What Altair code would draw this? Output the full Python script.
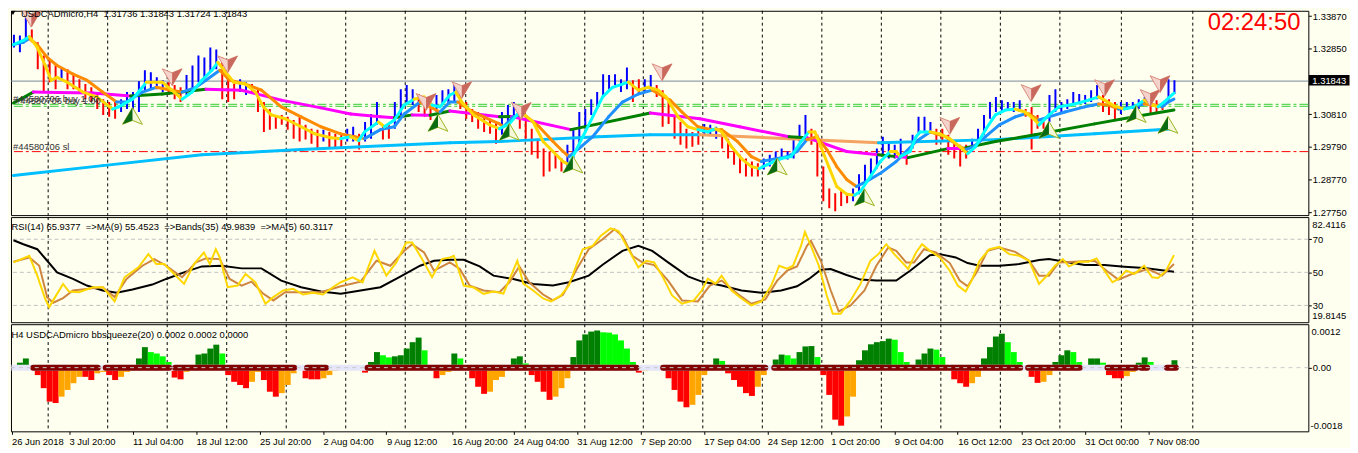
import altair as alt
import pandas as pd

FONT = "Liberation Sans"
BG = "#FFFFF0"
W = 1308
H_MAIN, H_RSI, H_SQZ = 206, 106, 108

# x = bar index of the H4 chart, y = price / indicator value
X_DOMAIN = [2.75, 656.75]
PRICE_DOMAIN = [1.27668, 1.34034]
RSI_DOMAIN = [19.82, 83.42]
SQZ_DOMAIN = [-0.0018, 0.001228]

# ---------------------------------------------------------------- price bars
BAR0, BAR_STEP = 4, 3
bar_high = [
    1.3329, 1.3326, 1.3385, 1.3345, 1.3305, 1.3264, 1.3252, 1.3233, 1.3227, 1.3221,
    1.3206, 1.3190, 1.3175, 1.3165, 1.3150, 1.3128, 1.3119, 1.3119, 1.3128, 1.3150,
    1.3150, 1.3184, 1.3218, 1.3212, 1.3196, 1.3187, 1.3181, 1.3172, 1.3165, 1.3203,
    1.3233, 1.3264, 1.3258, 1.3289, 1.3283, 1.3258, 1.3190, 1.3187, 1.3190, 1.3181,
    1.3175, 1.3159, 1.3119, 1.3097, 1.3079, 1.3079, 1.3073, 1.3063, 1.3079, 1.3048,
    1.3036, 1.3033, 1.3033, 1.3026, 1.3020, 1.3017, 1.3036, 1.3042, 1.3020, 1.3057,
    1.3082, 1.3119, 1.3048, 1.3048, 1.3119, 1.3159, 1.3172, 1.3159, 1.3144, 1.3128,
    1.3119, 1.3141, 1.3156, 1.3159,
    1.3175, 1.3159, 1.3119, 1.3097, 1.3088, 1.3073, 1.3067, 1.3057, 1.3088, 1.3110,
    1.3119, 1.3097, 1.3079, 1.3036, 1.3005, 1.2974, 1.2965, 1.2955, 1.2943, 1.2986,
    1.3036, 1.3088, 1.3097, 1.3128, 1.3150, 1.3206, 1.3203, 1.3206, 1.3190, 1.3227,
    1.3187, 1.3190, 1.3190, 1.3203, 1.3172, 1.3156, 1.3119, 1.3079, 1.3057, 1.3036,
    1.3026, 1.3042, 1.3051, 1.3048, 1.3042, 1.3033, 1.3005, 1.2974, 1.2955, 1.2943,
    1.2934, 1.2928, 1.2943, 1.2955, 1.2965, 1.2974, 1.2965, 1.3002, 1.3048, 1.3079,
    1.3036, 1.3017, 1.2918, 1.2850, 1.2835, 1.2841, 1.2835, 1.2850, 1.2894, 1.2924,
    1.2943, 1.2974, 1.3011, 1.2996, 1.2986,
    1.3005, 1.2965, 1.3017, 1.3073, 1.3073, 1.3057, 1.3036, 1.3036, 1.3017, 1.2996,
    1.2986, 1.2986, 1.3005, 1.3036, 1.3079, 1.3119, 1.3135, 1.3125, 1.3119, 1.3119,
    1.3125, 1.3097, 1.3104, 1.3079, 1.3067, 1.3141, 1.3159, 1.3119, 1.3128, 1.3150,
    1.3144, 1.3141, 1.3156, 1.3172, 1.3141, 1.3128, 1.3119, 1.3119, 1.3119, 1.3119,
    1.3128, 1.3135, 1.3128, 1.3125, 1.3119, 1.3190, 1.3187,
]
bar_low = [
    1.3289, 1.3274, 1.3311, 1.3305, 1.3221, 1.3150, 1.3181, 1.3159, 1.3187, 1.3159,
    1.3159, 1.3150, 1.3128, 1.3119, 1.3097, 1.3079, 1.3073, 1.3067, 1.3088, 1.3097,
    1.3063, 1.3088, 1.3150, 1.3159, 1.3159, 1.3150, 1.3141, 1.3128, 1.3119, 1.3141,
    1.3159, 1.3181, 1.3190, 1.3212, 1.3221, 1.3128, 1.3119, 1.3128, 1.3150, 1.3141,
    1.3144, 1.3088, 1.3026, 1.3033, 1.3036, 1.3048, 1.3033, 1.3005, 1.2996, 1.3002,
    1.2989, 1.2974, 1.2996, 1.2974, 1.2974, 1.2974, 1.2996, 1.2996, 1.2971, 1.2996,
    1.3005, 1.3048, 1.3002, 1.3005, 1.3036, 1.3079, 1.3119, 1.3110, 1.3088, 1.3073,
    1.3063, 1.3088, 1.3110, 1.3113,
    1.3119, 1.3097, 1.3067, 1.3057, 1.3036, 1.3026, 1.3020, 1.2989, 1.3017, 1.3048,
    1.3067, 1.3036, 1.3005, 1.2955, 1.2943, 1.2887, 1.2903, 1.2912, 1.2903, 1.2912,
    1.2943, 1.2986, 1.3036, 1.3079, 1.3097, 1.3141, 1.3159, 1.3172, 1.3150, 1.3159,
    1.3119, 1.3141, 1.3150, 1.3156, 1.3135, 1.3042, 1.3051, 1.3005, 1.2986, 1.2974,
    1.2980, 1.2986, 1.3017, 1.3017, 1.3005, 1.2974, 1.2943, 1.2924, 1.2897, 1.2887,
    1.2887, 1.2887, 1.2909, 1.2918, 1.2934, 1.2940, 1.2940, 1.2943, 1.2996, 1.3017,
    1.2986, 1.2887, 1.2810, 1.2788, 1.2779, 1.2795, 1.2804, 1.2810, 1.2832, 1.2872,
    1.2894, 1.2912, 1.2955, 1.2943, 1.2943,
    1.2949, 1.2924, 1.2974, 1.3017, 1.3026, 1.3020, 1.2986, 1.2996, 1.2955, 1.2943,
    1.2918, 1.2943, 1.2965, 1.2986, 1.3017, 1.3067, 1.3088, 1.3088, 1.3097, 1.3088,
    1.3088, 1.3073, 1.2971, 1.3036, 1.3036, 1.3057, 1.3088, 1.3088, 1.3097, 1.3110,
    1.3113, 1.3113, 1.3119, 1.3128, 1.3088, 1.3079, 1.3063, 1.3082, 1.3094, 1.3097,
    1.3097, 1.3110, 1.3079, 1.3088, 1.3094, 1.3119, 1.3144,
]
bar_dir = ("uuudddddud" "dddddddduu" "uuuuuudddu" "uuuuuddduu" "dddddddddd"
           "dduddduudu" "uudduuuudd" "duuu"
           "uddddddduu" "uddddddddu" "uuuuuuuuuu" "dduudddddd" "dduuuddddd"
           "dduuuuuuuu" "ddddddduuu" "uuuuu"
           "uduuuudddd" "dduuuuuuuu" "udddduuuuu" "uuuuddduuu" "uuddduu")

# ------------------------------------------------ moving averages (bar, value, colour key)
fast_ma = [
    (4, 1.3298, 'c'), (9, 1.3311, 'c'), (12, 1.3323, 'y'), (16, 1.3289, 'y'), (20, 1.3233, 'y'),
    (23, 1.3187, 'y'), (26, 1.3196, 'y'), (31, 1.3181, 'y'), (39, 1.3150, 'y'), (46, 1.3135, 'y'),
    (54, 1.3097, 'c'), (57, 1.3104, 'c'), (64, 1.3128, 'c'), (69, 1.3165, 'c'), (71, 1.3181, 'y'),
    (79, 1.3181, 'y'), (85, 1.3150, 'y'), (89, 1.3128, 'c'), (94, 1.3150, 'c'), (99, 1.3187, 'c'),
    (104, 1.3218, 'c'), (107, 1.3243, 'y'), (111, 1.3212, 'y'), (115, 1.3181, 'y'), (121, 1.3175, 'y'),
    (126, 1.3150, 'y'), (130, 1.3104, 'y'), (134, 1.3079, 'y'), (141, 1.3067, 'y'), (149, 1.3042, 'y'),
    (156, 1.3020, 'y'), (164, 1.3008, 'y'), (169, 1.3005, 'c'), (174, 1.3011, 'y'), (178, 1.2999, 'c'),
    (181, 1.3026, 'c'), (188, 1.3057, 'y'), (191, 1.3042, 'c'), (196, 1.3063, 'c'), (201, 1.3110, 'c'),
    (206, 1.3128, 'y'), (211, 1.3135, 'y'), (215, 1.3110, 'c'), (219, 1.3104, 'c'), (224, 1.3141, 'c'),
    (227, 1.3150, 'y'), (230, 1.3119, 'y'), (236, 1.3079, 'y'), (244, 1.3048, 'y'), (249, 1.3036, 'c'),
    (254, 1.3051, 'c'), (259, 1.3088, 'y'), (261, 1.3082, 'y'), (266, 1.3057, 'y'), (271, 1.2996, 'y'),
    (276, 1.2965, 'y'), (281, 1.2934, 'y'), (284, 1.2924, 'c'), (286, 1.2949, 'c'), (291, 1.3011, 'c'),
    (296, 1.3073, 'c'), (301, 1.3135, 'c'), (306, 1.3165, 'c'), (311, 1.3175, 'c'), (314, 1.3181, 'y'),
    (319, 1.3156, 'y'), (324, 1.3165, 'y'), (329, 1.3156, 'y'), (333, 1.3135, 'y'), (339, 1.3073, 'y'),
    (344, 1.3042, 'y'), (349, 1.3033, 'c'), (354, 1.3026, 'c'), (358, 1.3036, 'y'), (361, 1.3026, 'y'),
    (366, 1.2980, 'y'), (371, 1.2943, 'y'), (376, 1.2918, 'y'), (380, 1.2912, 'c'), (384, 1.2924, 'c'),
    (391, 1.2943, 'c'), (396, 1.2949, 'c'), (401, 1.2996, 'c'), (405, 1.3026, 'y'), (408, 1.3026, 'y'),
    (411, 1.2980, 'y'), (415, 1.2918, 'y'), (419, 1.2856, 'y'), (424, 1.2832, 'y'), (428, 1.2829, 'c'),
    (431, 1.2841, 'c'), (436, 1.2887, 'c'), (441, 1.2934, 'c'), (446, 1.2965, 'y'), (449, 1.2965, 'y'),
    (451, 1.2949, 'c'), (456, 1.2965, 'c'), (459, 1.3011, 'c'), (461, 1.3026, 'c'), (466, 1.3026, 'y'),
    (471, 1.3020, 'y'), (476, 1.3005, 'y'), (481, 1.2980, 'y'), (485, 1.2958, 'c'), (489, 1.2980, 'c'),
    (494, 1.3033, 'c'), (499, 1.3079, 'c'), (504, 1.3094, 'c'), (509, 1.3097, 'y'), (514, 1.3088, 'y'),
    (519, 1.3063, 'y'), (521, 1.3048, 'c'), (526, 1.3079, 'c'), (531, 1.3104, 'c'), (539, 1.3113, 'c'),
    (546, 1.3125, 'c'), (551, 1.3135, 'y'), (554, 1.3125, 'y'), (559, 1.3107, 'y'), (564, 1.3097, 'c'),
    (569, 1.3104, 'c'), (574, 1.3125, 'y'), (578, 1.3110, 'y'), (581, 1.3104, 'c'), (584, 1.3119, 'c'),
    (589, 1.3147, 'c'),
]
mid_ma = [
    (4, 1.3298, 'b'), (9, 1.3305, 'b'), (12, 1.3317, 'o'), (16, 1.3298, 'o'), (21, 1.3258, 'o'),
    (26, 1.3233, 'o'), (34, 1.3206, 'o'), (41, 1.3187, 'o'), (49, 1.3150, 'o'), (56, 1.3119, 'b'),
    (61, 1.3119, 'b'), (69, 1.3150, 'b'), (76, 1.3165, 'o'), (84, 1.3156, 'o'), (89, 1.3150, 'b'),
    (96, 1.3165, 'b'), (101, 1.3187, 'b'), (108, 1.3218, 'o'), (113, 1.3187, 'o'), (121, 1.3175, 'o'),
    (129, 1.3156, 'o'), (139, 1.3104, 'o'), (149, 1.3073, 'o'), (159, 1.3042, 'o'), (169, 1.3020, 'o'),
    (176, 1.3011, 'o'), (181, 1.3005, 'b'), (189, 1.3033, 'b'), (196, 1.3042, 'b'), (201, 1.3082, 'b'),
    (209, 1.3119, 'o'), (214, 1.3104, 'o'), (219, 1.3088, 'b'), (224, 1.3119, 'b'), (228, 1.3119, 'o'),
    (234, 1.3094, 'o'), (241, 1.3073, 'o'), (249, 1.3051, 'o'), (251, 1.3042, 'b'), (256, 1.3073, 'b'),
    (261, 1.3082, 'o'), (269, 1.3042, 'o'), (276, 1.2996, 'o'), (281, 1.2965, 'o'), (284, 1.2949, 'b'),
    (289, 1.2974, 'b'), (296, 1.3011, 'b'), (304, 1.3073, 'b'), (311, 1.3119, 'b'), (319, 1.3144, 'b'),
    (326, 1.3156, 'o'), (335, 1.3125, 'o'), (341, 1.3088, 'o'), (349, 1.3042, 'o'), (356, 1.3033, 'o'),
    (361, 1.3033, 'o'), (369, 1.2996, 'o'), (376, 1.2949, 'o'), (381, 1.2934, 'b'), (394, 1.2949, 'b'),
    (399, 1.2965, 'b'), (404, 1.3002, 'o'), (409, 1.3011, 'o'), (414, 1.2971, 'o'), (419, 1.2918, 'o'),
    (424, 1.2878, 'o'), (429, 1.2856, 'b'), (434, 1.2872, 'b'), (441, 1.2897, 'b'), (449, 1.2934, 'b'),
    (454, 1.2965, 'b'), (459, 1.2996, 'b'), (466, 1.3026, 'o'), (474, 1.3011, 'o'), (481, 1.2980, 'o'),
    (484, 1.2971, 'b'), (488, 1.2980, 'b'), (494, 1.3011, 'b'), (501, 1.3048, 'b'), (509, 1.3073, 'b'),
    (514, 1.3082, 'o'), (516, 1.3082, 'o'), (521, 1.3063, 'b'), (526, 1.3073, 'b'), (534, 1.3088, 'b'),
    (544, 1.3104, 'b'), (551, 1.3113, 'o'), (556, 1.3110, 'o'), (561, 1.3097, 'b'), (566, 1.3101, 'b'),
    (574, 1.3113, 'o'), (579, 1.3110, 'o'), (583, 1.3104, 'b'), (586, 1.3119, 'b'), (589, 1.3128, 'b'),
]
trend_ma = [
    (4, 1.3116, 'g'), (14, 1.3150, 'm'), (26, 1.3149, 'm'), (44, 1.3147, 'm'), (63, 1.3138, 'g'),
    (79, 1.3144, 'g'), (101, 1.3159, 'm'), (119, 1.3156, 'm'), (139, 1.3125, 'm'), (159, 1.3101, 'm'),
    (174, 1.3082, 'm'), (189, 1.3073, 'm'), (196, 1.3070, 'g'), (205, 1.3079, 'm'), (214, 1.3078, 'g'),
    (224, 1.3091, 'm'), (249, 1.3073, 'g'), (255, 1.3074, 'm'), (285, 1.3033, 'g'), (325, 1.3085, 'm'),
    (350, 1.3067, 'm'), (370, 1.3042, 'm'), (395, 1.3011, 'g'), (404, 1.3008, 'm'), (424, 1.2965, 'm'),
    (440, 1.2955, 'g'), (449, 1.2949, 'm'), (455, 1.2946, 'g'), (475, 1.2974, 'm'), (482, 1.2974, 'g'),
    (499, 1.2996, 'g'), (519, 1.3017, 'g'), (549, 1.3051, 'g'), (569, 1.3073, 'g'), (589, 1.3094, 'g'),
]
long_ma = [
    (4, 1.2890, 's'), (49, 1.2921, 's'), (99, 1.2955, 's'), (149, 1.2971, 's'), (224, 1.2992, 's'),
    (249, 1.2996, 's'), (299, 1.3011, 's'), (325, 1.3017, 's'), (350, 1.3017, 'n'), (395, 1.3005, 'n'),
    (440, 1.2992, 's'), (499, 1.3002, 's'), (549, 1.3020, 's'), (589, 1.3036, 's'),
]
FAST_COL = {'c': '#00FFFF', 'y': '#FFD700'}
MID_COL = {'b': '#1E90FF', 'o': '#FF8C00'}
TREND_COL = {'g': '#008000', 'm': '#FF00FF'}
LONG_COL = {'s': '#00BFFF', 'n': '#F4A460'}

sell_arrows = [(13, 1.33787), (84, 1.31964), (112, 1.32365), (212, 1.31191), (230, 1.31562),
               (260, 1.30913), (331, 1.32118), (476, 1.30449), (517, 1.31469), (554, 1.31624),
               (577, 1.31315), (582, 1.31747)]
buy_arrows = [(64, 1.30758), (218, 1.30542), (254, 1.30264), (286, 1.29244), (389, 1.29183),
              (433, 1.28225), (526, 1.30326), (570, 1.30820), (586, 1.30480)]

last_price = 1.31843
order_entries = [1.31120, 1.31058]
stop_loss = 1.29646
price_ticks = [1.3387, 1.3285, 1.3081, 1.2979, 1.2877, 1.2775]

# ---------------------------------------------------------------- RSI panel
rsi_ma5 = [
    (4, 56.0), (12, 60.0), (16, 48.0), (20, 34.0), (22, 29.0), (25, 35.0), (29, 43.0), (32, 38.4),
    (37, 38.0), (44, 41.0), (49, 41.0), (55, 32.4), (60, 47.0), (67, 53.0), (72, 61.0), (76, 55.0),
    (80, 55.0), (85, 49.0), (90, 43.0), (95, 55.0), (100, 62.0), (103, 55.0), (106, 64.0), (108, 59.0),
    (112, 41.0), (117, 42.0), (121, 49.0), (126, 44.0), (131, 31.0), (135, 35.0), (140, 39.0), (145, 40.0),
    (150, 36.6), (155, 37.6), (160, 36.6), (165, 41.0), (169, 44.0), (175, 47.0), (180, 44.0), (186, 63.0),
    (192, 48.0), (197, 56.0), (202, 68.0), (205, 68.0), (210, 58.0), (215, 47.0), (220, 58.0), (224, 59.0),
    (226, 60.0), (231, 42.0), (236, 40.8), (241, 37.0), (246, 38.4), (251, 37.2), (258, 57.0), (261, 43.2),
    (266, 39.0), (271, 34.2), (275, 32.4), (280, 36.0), (284, 42.0), (288, 55.0), (291, 64.0), (296, 66.0),
    (300, 72.0), (305, 76.6), (309, 75.0), (314, 64.0), (319, 53.0), (323, 57.0), (327, 56.0), (331, 48.0),
    (336, 36.0), (341, 31.0), (347, 33.0), (351, 39.0), (354, 46.2), (358, 43.2), (361, 48.0), (366, 39.0),
    (371, 34.2), (376, 30.0), (381, 32.4), (386, 42.0), (390, 54.0), (394, 52.2), (397, 54.0), (401, 66.0),
    (403, 74.4), (406, 66.0), (410, 54.0), (414, 36.0), (417, 25.0), (421, 25.0), (426, 33.0), (431, 43.0),
    (436, 57.0), (440, 61.0), (444, 67.0), (448, 61.0), (452, 56.0), (455, 52.0), (459, 62.0), (462, 67.0),
    (466, 63.0), (471, 59.0), (476, 51.0), (480, 42.0), (484, 38.4), (487, 45.0), (491, 57.0), (496, 64.0),
    (501, 65.4), (506, 61.0), (511, 60.0), (516, 57.0), (521, 43.0), (525, 48.0), (529, 54.0), (533, 58.0),
    (536, 53.6), (541, 56.4), (546, 56.4), (550, 58.4), (554, 51.0), (558, 44.0), (561, 46.0), (565, 51.0),
    (569, 49.0), (574, 54.0), (578, 47.0), (581, 46.6), (585, 51.0), (589, 60.4),
]
rsi_ma9 = [
    (4, 56.4), (12, 59.0), (17, 54.0), (21, 35.0), (24, 31.6), (29, 34.4), (34, 39.0), (41, 40.0),
    (49, 41.0), (55, 35.0), (61, 46.0), (69, 54.0), (75, 58.0), (81, 54.0), (89, 47.0), (96, 56.0),
    (101, 58.4), (108, 58.0), (113, 46.0), (119, 42.0), (124, 44.4), (130, 37.0), (135, 33.0), (141, 38.0),
    (149, 38.0), (159, 38.0), (169, 41.6), (179, 44.4), (187, 57.0), (194, 54.0), (201, 63.0), (205, 67.0),
    (211, 62.0), (216, 51.0), (224, 56.0), (229, 52.0), (234, 42.0), (241, 39.0), (249, 38.0), (254, 44.0),
    (259, 53.6), (264, 44.0), (271, 36.6), (276, 33.0), (281, 36.4), (288, 52.0), (294, 64.0), (301, 70.0),
    (307, 76.0), (311, 72.0), (316, 60.0), (321, 56.0), (327, 54.4), (334, 45.0), (341, 33.0), (349, 32.4),
    (355, 42.0), (361, 45.0), (369, 37.0), (376, 31.0), (383, 33.6), (389, 45.0), (394, 51.0), (399, 53.6),
    (404, 66.0), (406, 69.0), (411, 57.0), (416, 39.0), (420, 26.4), (426, 30.0), (433, 39.0), (439, 54.0),
    (445, 65.0), (449, 63.0), (454, 56.0), (458, 56.0), (463, 64.0), (469, 62.0), (476, 55.6), (481, 45.0),
    (485, 41.6), (490, 51.0), (495, 63.0), (501, 65.0), (509, 62.4), (516, 57.0), (521, 48.0), (526, 48.0),
    (531, 56.0), (539, 56.4), (549, 57.0), (555, 51.0), (561, 45.6), (569, 49.6), (576, 52.0), (583, 48.0),
    (589, 55.0),
]
rsi_band = [
    (4, 69.4), (9, 67.0), (16, 64.0), (21, 57.0), (26, 50.0), (34, 46.0), (41, 42.0), (49, 39.0),
    (56, 37.6), (64, 39.6), (74, 42.6), (81, 46.0), (91, 50.4), (99, 53.6), (109, 54.0), (119, 52.4),
    (129, 52.4), (139, 45.0), (149, 41.0), (159, 38.4), (169, 37.0), (179, 39.0), (189, 41.0), (199, 47.4),
    (209, 54.0), (216, 57.0), (224, 57.6), (231, 57.6), (239, 53.6), (246, 48.0), (256, 46.0), (266, 43.0),
    (276, 42.0), (284, 44.0), (294, 48.0), (301, 54.6), (311, 63.0), (319, 66.0), (326, 63.0), (334, 56.0),
    (344, 47.6), (351, 44.4), (361, 42.0), (371, 39.0), (381, 37.6), (391, 39.0), (399, 41.6), (405, 46.0),
    (411, 51.6), (416, 52.0), (424, 48.4), (431, 45.6), (439, 45.0), (449, 45.0), (456, 51.0), (466, 60.4),
    (471, 61.0), (479, 59.0), (485, 55.6), (491, 54.0), (501, 54.0), (511, 55.0), (521, 57.4), (526, 58.0),
    (534, 56.4), (544, 54.4), (554, 54.4), (564, 53.4), (574, 52.6), (581, 51.6), (589, 50.4),
]
rsi_levels = [30, 50, 70]

# ---------------------------------------------------------------- bbsqueeze panel
squeeze = [
    0, 0.00014, 0.00026, 0.00005, -0.00021, -0.00058, -0.00096, -0.00100, -0.00082, -0.00063,
    -0.00044, -0.00026, -0.00026, -0.00035, -0.00016, -0.00012, -0.00021, -0.00035, -0.00026, -0.00012,
    0.00003, 0.00026, 0.00058, 0.00044, 0.00040, 0.00032, 0.00016, -0.00028, -0.00033, -0.00012,
    0, 0.00037, 0.00040, 0.00054, 0.00065, 0.00040, -0.00021, -0.00040, -0.00049, -0.00058,
    -0.00040, -0.00012, -0.00035, -0.00068, -0.00082, -0.00072, -0.00049, -0.00016, -0.00003, -0.00030,
    -0.00033, -0.00033, -0.00030, -0.00021, -0.00009, 0, -0.00005, 0, 0, -0.00014,
    0.00016, 0.00044, 0.00035, 0.00029, 0.00032, 0.00035, 0.00054, 0.00072, 0.00085, 0.00049,
    0.00005, -0.00030, -0.00021, -0.00012,
    0.00040, 0.00026, -0.00007, -0.00030, -0.00054, -0.00074, -0.00068, -0.00035, -0.00026, 0.00005,
    0.00026, 0.00032, 0.00012, -0.00021, -0.00040, -0.00068, -0.00091, -0.00082, -0.00058, -0.00030,
    0.00030, 0.00077, 0.00094, 0.00102, 0.00105, 0.00100, 0.00099, 0.00094, 0.00077, 0.00054,
    0.00016, -0.00014, -0.00009, -0.00007, -0.00005, -0.00007, -0.00030, -0.00063, -0.00096, -0.00112,
    -0.00105, -0.00077, -0.00021, 0, 0.00026, 0.00019, -0.00016, -0.00035, -0.00054, -0.00072,
    -0.00080, -0.00054, -0.00021, 0, 0.00023, 0.00037, 0.00035, 0.00026, 0.00044, 0.00060,
    0.00061, 0.00030, -0.00021, -0.00077, -0.00147, -0.00164, -0.00138, -0.00082, 0.00021, 0.00049,
    0.00066, 0.00072, 0.00075, 0.00082, 0.00079,
    0.00044, 0.00016, 0, 0.00023, 0.00040, 0.00054, 0.00051, 0.00030, 0, -0.00033,
    -0.00044, -0.00054, -0.00044, -0.00026, 0.00026, 0.00058, 0.00088, 0.00096, 0.00072, 0.00044,
    0.00016, 0, -0.00026, -0.00043, -0.00040, -0.00021, 0.00016, 0.00035, 0.00049, 0.00044,
    0.00016, 0, 0.00026, 0.00026, 0.00014, -0.00021, -0.00030, -0.00030, -0.00024, -0.00012,
    0.00014, 0.00029, 0.00016, 0, 0, 0, 0.00021,
]
squeeze_on = [(14, 46.5), (50.5, 82.5), (85.5, 145.5), (152, 161.5), (182.5, 318), (331.5, 383),
              (387.5, 475.5), (476.5, 511.5), (515.5, 541.5), (555.5, 570), (572.5, 575.5), (585.5, 590)]
squeeze_span = (3, 590)

# ---------------------------------------------------------------- time axis
grid_bars = [21.5, 51.5, 81.5, 111.5, 141.5, 171.5, 201.5, 232, 262, 292, 321.5, 351.5,
             381.5, 411.5, 441.5, 471.5, 501.5, 531.5, 562.5, 598.5]
date_bars = [3, 32, 64, 96, 128, 160, 192, 225, 256, 288, 320, 352, 384, 416, 448, 480, 512, 544, 576]
date_labels = ["26 Jun 2018", "3 Jul 20:00", "11 Jul 04:00", "18 Jul 12:00", "25 Jul 20:00",
               "2 Aug 04:00", "9 Aug 12:00", "16 Aug 20:00", "24 Aug 04:00", "31 Aug 12:00",
               "7 Sep 20:00", "17 Sep 04:00", "24 Sep 12:00", "1 Oct 20:00", "9 Oct 04:00",
               "16 Oct 12:00", "23 Oct 20:00", "31 Oct 00:00", "7 Nov 08:00"]

# ================================================================ build
xs = alt.Scale(domain=X_DOMAIN, nice=False, zero=False)
ys_p = alt.Scale(domain=PRICE_DOMAIN, nice=False, zero=False)
ys_r = alt.Scale(domain=RSI_DOMAIN, nice=False, zero=False)
ys_s = alt.Scale(domain=SQZ_DOMAIN, nice=False, zero=False)


def right_axis(values, fmt):
    return alt.Axis(orient="right", values=values, format=fmt, title=None, grid=False, domain=False,
                    tickSize=3, tickColor="black", labelPadding=1, labelFont=FONT, labelFontSize=9.5,
                    labelColor="black", labelAlign="left", labelBaseline="middle",
                    labelFlush=False, labelOverlap=False, labelBound=False)


label_expr = ("[" + ",".join("'%s'" % t for t in date_labels) + "][indexof(["
              + ",".join(str(v) for v in date_bars) + "], datum.value)]")
DATE_AXIS = alt.Axis(values=date_bars, labelExpr=label_expr, orient="bottom", title=None, grid=False,
                     domain=False, tickSize=3, tickColor="black", labelAlign="left", labelBaseline="top",
                     labelPadding=2, labelFlush=False, labelOverlap=False, labelBound=False,
                     labelFont=FONT, labelFontSize=9.5, labelColor="black")

P_AXIS = right_axis(price_ticks, ".5f")
R_AXIS = right_axis(rsi_levels, "d")
S_AXIS = right_axis([0.0], ".2f")


class Panel:
    def __init__(self, ysc, yaxis, xaxis=None):
        self.ysc, self.yaxis, self.xaxis = ysc, yaxis, xaxis

    def X(self, field):
        return alt.X(field, type="quantitative", scale=xs, axis=self.xaxis)

    def Y(self, field):
        return alt.Y(field, type="quantitative", scale=self.ysc, axis=self.yaxis)

    def grid(self):
        return alt.Chart(pd.DataFrame({"b": grid_bars})).mark_rule(
            color="black", strokeWidth=1, strokeDash=[3, 3]).encode(x=self.X("b"))

    def hrule(self, values, colors, **kw):
        df = pd.DataFrame({"v": values, "c": colors})
        return alt.Chart(df).mark_rule(**kw).encode(y=self.Y("v"), color=alt.Color("c:N", scale=None))

    def segs(self, series, palette, width=3):
        rows = [{"x": b0, "x2": b1, "y": v0, "y2": v1, "color": palette[c]}
                for (b0, v0, c), (b1, v1, _) in zip(series[:-1], series[1:])]
        return alt.Chart(pd.DataFrame(rows)).mark_rule(
            strokeWidth=width, strokeCap="round", clip=True).encode(
            x=self.X("x"), x2="x2", y=self.Y("y"), y2="y2", color=alt.Color("color:N", scale=None))

    def line(self, series, color):
        return alt.Chart(pd.DataFrame(series, columns=["b", "v"])).mark_line(
            color=color, strokeWidth=2, clip=True).encode(x=self.X("b"), y=self.Y("v"))

    def text(self, rows, **kw):
        df = pd.DataFrame(rows, columns=["b", "v", "t"])
        return alt.Chart(df).mark_text(font=FONT, **kw).encode(x=self.X("b"), y=self.Y("v"), text="t:N")


# ---------------- main panel
pm = Panel(ys_p, P_AXIS)
bars = pd.DataFrame({"b": [BAR0 + BAR_STEP * i for i in range(len(bar_high))],
                     "hi": bar_high, "lo": bar_low, "dir": list(bar_dir)})
bar_layer = alt.Chart(bars).mark_rule(strokeWidth=2, xOffset=0.5, clip=True).encode(
    x=pm.X("b"), y=pm.Y("lo"), y2="hi",
    color=alt.Color("dir:N", scale=alt.Scale(domain=["u", "d"], range=["#0000FF", "#FF0000"]), legend=None))

order_layer = pm.hrule(order_entries + [stop_loss], ["#32CD32", "#32CD32", "#FF0000"],
                       strokeWidth=1, strokeDash=[9, 3, 3, 3])
bid_layer = pm.hrule([last_price], ["#778899"], strokeWidth=1)

UP = "M0,-0.85 L1,0.85 L0,0.45 L-1,0.85 Z"
UP_HALF = "M0,-0.85 L0,0.45 L-1,0.85 Z"
DN = "M0,0.85 L1,-0.85 L0,-0.45 L-1,-0.85 Z"
DN_HALF = "M0,0.85 L0,-0.45 L1,-0.85 Z"
buy_df = pd.DataFrame(buy_arrows, columns=["b", "p"])
sell_df = pd.DataFrame(sell_arrows, columns=["b", "p"])


def arrow(df, shape, **kw):
    return alt.Chart(df).mark_point(shape=shape, size=400, opacity=1, clip=True, **kw).encode(
        x=pm.X("b"), y=pm.Y("p"))


arrows = [
    arrow(buy_df, UP, filled=True, fill="#F4F7D8", stroke="#9DB520", strokeWidth=1),
    arrow(buy_df, UP_HALF, filled=True, fill="#0B6B12", strokeWidth=0),
    arrow(sell_df, DN, filled=True, fill="#F3D3CB", stroke="#D98B7A", strokeWidth=1),
    arrow(sell_df, DN_HALF, filled=True, fill="#C9685C", strokeWidth=0),
]

tri = alt.Chart(pd.DataFrame({"b": [3.75], "p": [1.33972]})).mark_point(
    shape="triangle-down", size=28, filled=True, color="black", opacity=1, clip=True).encode(
    x=pm.X("b"), y=pm.Y("p"))

title_txt = pm.text([(7.75, 1.33848, "USDCADmicro,H4\u00a0\u00a01.31736 1.31843 1.31724 1.31843")],
                    align="left", baseline="alphabetic", fontSize=9.5, color="black", clip=True)
clock_txt = pm.text([(652.75, 1.33447, "02:24:50")], align="right", baseline="alphabetic",
                    fontSize=24, color="#FF0000")
order_txt = pm.text([(3.75, 1.31191, "#44580706 buy 1.00"), (4.75, 1.31129, "#44580706 buy 1.00"),
                     (3.75, 1.29708, "#44580706 sl")],
                    align="left", baseline="alphabetic", fontSize=9.5, color="#333333")

box = alt.Chart(pd.DataFrame({"b0": [657.0], "b1": [677.5], "p0": [1.31707], "p1": [1.32035]})).mark_rect(
    color="black").encode(x=pm.X("b0"), x2="b1", y=pm.Y("p0"), y2="p1")
box_txt = pm.text([(658.75, last_price, "1.31843")], align="left", baseline="middle",
                  fontSize=9.5, color="white")

main = alt.layer(
    pm.grid(), order_layer, bid_layer, bar_layer,
    pm.segs(long_ma, LONG_COL), pm.segs(trend_ma, TREND_COL),
    pm.segs(mid_ma, MID_COL), pm.segs(fast_ma, FAST_COL),
    *arrows, tri, title_txt, clock_txt, order_txt, box, box_txt,
).properties(width=W, height=H_MAIN)

# ---------------- RSI panel
pr = Panel(ys_r, R_AXIS)
rsi_txt = pr.text([(3.0, 75.9, "RSI(14) 65.9377  =>MA(9) 55.4523  =>Bands(35) 49.9839  =>MA(5) 60.3117"
                    .replace("  ", "\u00a0\u00a0"))],
                  align="left", baseline="alphabetic", fontSize=9.5, color="black")
rsi_ext = pr.text([(658.75, 77.1, "82.4116"), (658.75, 21.9, "19.8145")], align="left",
                  baseline="alphabetic", fontSize=9.5, color="black")

rsi = alt.layer(
    pr.grid(),
    pr.hrule(rsi_levels, ["#C0C0C0"] * 3, strokeWidth=1, strokeDash=[4, 3]),
    pr.line(rsi_band, "#000000"), pr.line(rsi_ma9, "#CD853F"), pr.line(rsi_ma5, "#FFD700"),
    rsi_txt, rsi_ext,
).properties(width=W, height=H_RSI)

# ---------------- squeeze panel
ps = Panel(ys_s, S_AXIS, DATE_AXIS)
sq_rows = []
prev = 0.0
for i, v in enumerate(squeeze):
    b = BAR0 + BAR_STEP * i
    if v > 0:
        col = "#008000" if v >= prev else "#00FF00"
    else:
        col = "#FF0000" if v <= prev else "#FFA500"
    sq_rows.append({"x0": b - 1.25, "x1": b + 1.75, "v": v, "z": 0.0, "c": col})
    prev = v
hist = alt.Chart(pd.DataFrame(sq_rows)).mark_rect().encode(
    x=ps.X("x0"), x2="x1", y=ps.Y("z"), y2="v", color=alt.Color("c:N", scale=None))

band = alt.Chart(pd.DataFrame({"s": [squeeze_span[0]], "e": [squeeze_span[1]], "z": [0.0]})).mark_rule(
    color="#E6E6FA", strokeWidth=6).encode(x=ps.X("s"), x2="e", y=ps.Y("z"))
on_band = alt.Chart(pd.DataFrame([{"s": s, "e": e, "z": 0.0} for s, e in squeeze_on])).mark_rule(
    color="#800000", strokeWidth=6, strokeCap="round").encode(x=ps.X("s"), x2="e", y=ps.Y("z"))
zero = ps.hrule([0.0], ["#C8C8C8"], strokeWidth=1, strokeDash=[4, 4])

sq_txt = ps.text([(3.0, 0.000850, "H4 USDCADmicro bbsqueeze(20) 0.0002 0.0002 0.0000")],
                 align="left", baseline="alphabetic", fontSize=9.5, color="black")
sq_ext = ps.text([(658.4, 0.000914, "0.0012"), (657.9, -0.00173, "-0.0018")], align="left",
                 baseline="alphabetic", fontSize=9.5, color="black")

sqz = alt.layer(
    ps.grid(), hist, band, on_band, zero, sq_txt, sq_ext,
).properties(width=W, height=H_SQZ)

chart = alt.vconcat(main, rsi, sqz, spacing=2, bounds="flush").properties(
    padding=0
).configure(background=BG).configure_view(stroke="black", strokeWidth=1, fill=BG)

chart.save("out.html", embed_options={"renderer": "svg", "actions": False})
